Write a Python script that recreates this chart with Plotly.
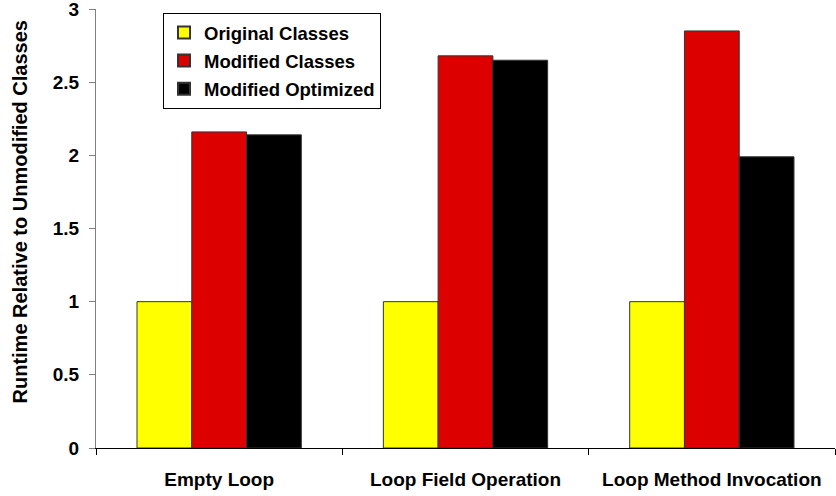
import plotly.graph_objects as go

categories = ["Empty Loop", "Loop Field Operation", "Loop Method Invocation"]
series_names = ["Original Classes", "Modified Classes", "Modified Optimized"]
original = [1.0, 1.0, 1.0]
modified = [2.16, 2.68, 2.85]
optimized = [2.14, 2.65, 1.99]
y_ticks = [0, 0.5, 1, 1.5, 2, 2.5, 3]
y_ticklabels = ["0", "0.5", "1", "1.5", "2", "2.5", "3"]
y_title = "Runtime Relative to Unmodified Classes"

colors = ["#FFFF00", "#DD0000", "#000000"]
FONT = "Arial, Liberation Sans, sans-serif"

fig = go.Figure()
for i, (name, vals, col) in enumerate(zip(series_names, [original, modified, optimized], colors)):
    fig.add_trace(go.Bar(
        x=categories, y=vals, name=name, legendgroup=f"g{i}",
        marker=dict(color=col, line=dict(color="#333333", width=1)),
    ))

fig.update_layout(
    width=836, height=496,
    margin=dict(l=96, r=1, t=9, b=48, autoexpand=False),
    plot_bgcolor="white", paper_bgcolor="white",
    barmode="group", bargap=0.333, bargroupgap=0,
    font=dict(family=FONT, size=19, color="black", weight="bold"),
    showlegend=True,
    legend=dict(
        x=(163-96)/739, y=(448-13)/439, xanchor="left", yanchor="top",
        bgcolor="white", bordercolor="black", borderwidth=1,
        font=dict(family=FONT, size=18.5, color="black", weight="bold"),
        tracegroupgap=1, itemsizing="constant", itemwidth=30,
    ),
    xaxis=dict(
        range=[-0.5, 2.5], showline=True, linecolor="black", linewidth=1,
        ticks="outside", tickson="boundaries", ticklen=6, tickcolor="black",
        showgrid=False, ticklabelstandoff=14, automargin=False,
        tickfont=dict(family=FONT, size=19, color="black", weight="bold"),
    ),
    yaxis=dict(
        range=[0, 3], tickvals=y_ticks, ticktext=y_ticklabels,
        showline=True, linecolor="#808080", linewidth=1,
        ticks="outside", ticklen=6, tickcolor="#808080",
        showgrid=False, zeroline=False, ticklabelstandoff=6,
        automargin=False, ticklabeloverflow="allow",
        tickfont=dict(family=FONT, size=19, color="black", weight="bold"),
    ),
    annotations=[dict(
        text=y_title, xref="paper", yref="paper",
        x=-96/739, y=(448-212.5)/439, xanchor="left", yanchor="middle",
        xshift=6, textangle=-90, showarrow=False,
        font=dict(family=FONT, size=20, color="black", weight="bold"),
    )],
)

fig.write_html(
    "out.html",
    config={"displayModeBar": False},
    post_script="document.body.style.margin='0';document.body.style.padding='0';",
)
